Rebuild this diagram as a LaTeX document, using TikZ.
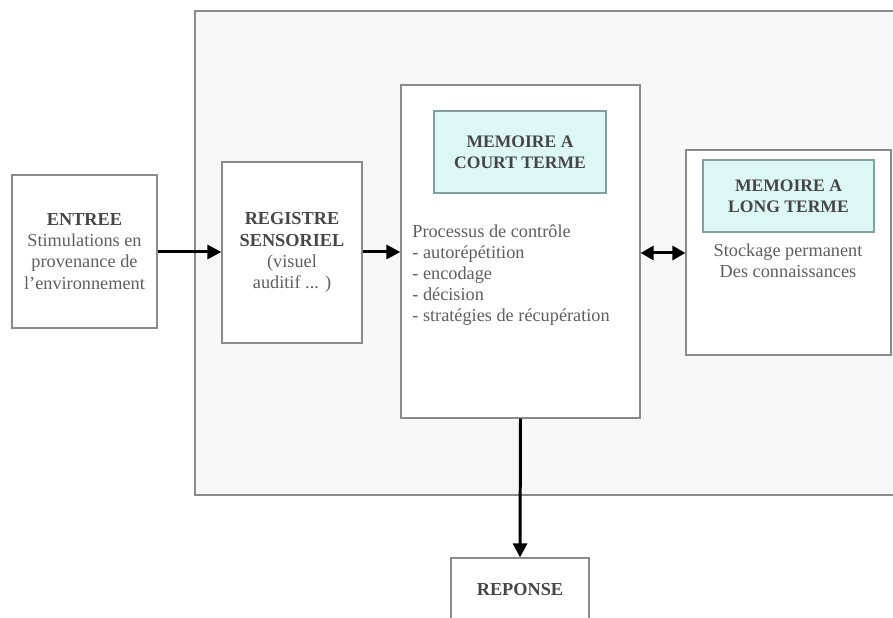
\documentclass[tikz,border=0pt]{standalone}
\usepackage{fontspec}
\setmainfont{Liberation Serif}
\usepackage{xcolor}
\usepackage{tikz}
\usetikzlibrary{arrows.meta, positioning, calc}
\definecolor{boxgray}{RGB}{138, 138, 138}
\definecolor{panelgray}{RGB}{247, 247, 247}
\definecolor{textgray}{RGB}{95, 95, 95}
\definecolor{titlegray}{RGB}{70, 70, 70}
\definecolor{lightcyan}{RGB}{221, 246, 246}
\definecolor{cyanborder}{RGB}{130, 160, 160}

\begin{document}
\begin{tikzpicture}[
    box/.style={rectangle, draw=boxgray, line width=0.7pt, fill=white, align=center, text=textgray, font=\fontsize{10.4}{12}\selectfont},
    titlebox/.style={rectangle, draw=cyanborder, line width=0.7pt, fill=lightcyan, align=center, text=titlegray, font=\fontsize{10}{12}\selectfont\bfseries},
    body/.style={text=textgray, font=\fontsize{10.4}{11.9}\selectfont, inner sep=0pt},
    flow/.style={-{Triangle[length=2.8mm, width=2.8mm]}, line width=1.7pt, black}
]
    \useasboundingbox (0,0) rectangle (17.86,12.36);
    \clip (0,0) rectangle (17.86,12.36);

    % Outer panel
    \node[rectangle, draw=boxgray, line width=0.9pt, fill=panelgray, minimum width=14.2cm, minimum height=9.68cm, anchor=north west] (panel) at (3.88, 12.16) {};

    % Input
    \node[box, minimum width=2.9cm, minimum height=3.06cm] (entree) at (1.69, 7.33) {\textbf{\color{titlegray}ENTREE}\\Stimulations en\\provenance de\\l'environnement};

    % Sensory register
    \node[box, minimum width=2.8cm, minimum height=3.62cm] (registre) at (5.84, 7.31) {\textbf{\color{titlegray}REGISTRE}\\\textbf{\color{titlegray}SENSORIEL}\\(visuel\\auditif ... )};

    % Short term memory
    \node[box, minimum width=4.78cm, minimum height=6.66cm] (mct) at (10.41, 7.33) {};
    \node[titlebox, minimum width=3.44cm, minimum height=1.64cm] (mcttitle) at (10.4, 9.32) {MEMOIRE A\\COURT TERME};
    \node[body, anchor=west, align=left] (mcttext) at (8.24, 6.86) {Processus de contrôle\\- autorépétition\\- encodage\\- décision\\- stratégies de récupération};

    % Long term memory
    \node[box, minimum width=4.1cm, minimum height=4.1cm] (mlt) at (15.77, 7.31) {};
    \node[titlebox, minimum width=3.42cm, minimum height=1.44cm] (mlttitle) at (15.77, 8.44) {MEMOIRE A\\LONG TERME};
    \node[body, align=center] (mlttext) at (15.76, 7.14) {Stockage permanent\\Des connaissances};

    % Output
    \node[box, minimum width=2.76cm, minimum height=1.28cm] (reponse) at (10.4, 0.56) {\textbf{\color{titlegray}REPONSE}};

    % Flows
    \draw[flow] (entree.east |- 0,7.32) -- (registre.west |- 0,7.32);
    \draw[flow] (registre.east |- 0,7.32) -- (mct.west |- 0,7.32);
    \draw[{Triangle[length=2.6mm, width=2.8mm]}-{Triangle[length=2.6mm, width=2.8mm]}, line width=1.7pt, black] (mct.east |- 0,7.30) -- (mlt.west |- 0,7.30);
    \draw[flow] (mct.south) -- (reponse.north);

\end{tikzpicture}
\end{document}
